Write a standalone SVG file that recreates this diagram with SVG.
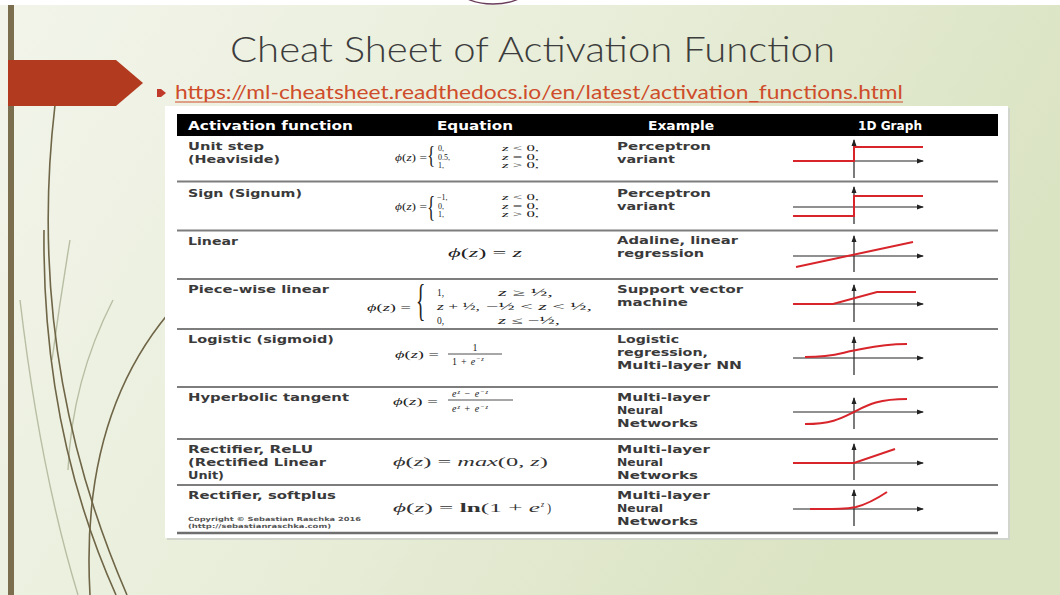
<svg xmlns="http://www.w3.org/2000/svg" width="1060" height="595" viewBox="0 0 1060 595">
<defs>
<linearGradient id="bg" x1="0" y1="0" x2="1" y2="0.35">
<stop offset="0" stop-color="#f2f4ea"/>
<stop offset="0.45" stop-color="#eaefdc"/>
<stop offset="1" stop-color="#dae3c2"/>
</linearGradient>
<marker id="ah" markerUnits="userSpaceOnUse" markerWidth="7" markerHeight="6" refX="6" refY="3" orient="auto">
<path d="M0,0.5 L7,3 L0,5.5 z" fill="#222"/>
</marker>
<style>
.title{font-family:Lato,'Open Sans','Liberation Sans',sans-serif;font-weight:300;font-size:36px;fill:#3c3c3c}
.url{font-family:Lato,'Open Sans','Liberation Sans',sans-serif;font-weight:400;font-size:19px;fill:#cf4c2a}
.hd{font-family:'DejaVu Sans',Verdana,sans-serif;font-weight:bold;font-size:11.5px;fill:#fff}
.t{font-family:'DejaVu Sans',Verdana,sans-serif;font-weight:bold;font-size:11px;fill:#3a3a3a}
.cp{font-family:'DejaVu Sans',Verdana,sans-serif;font-weight:bold;font-size:5.6px;fill:#555}
.m{font-family:'Liberation Serif','Times New Roman',serif;font-size:9.5px;fill:#222}
.s{font-family:'Liberation Serif','Times New Roman',serif;font-size:8px;fill:#222}
.f{font-family:'Liberation Serif','Times New Roman',serif;font-size:10px;fill:#222}
.br{font-family:'Liberation Serif','Times New Roman',serif;font-size:23px;fill:#222}
.mb{font-family:'Liberation Serif','Times New Roman',serif;font-size:12.5px;fill:#333}
.sup{font-size:6.5px}
.i{font-style:italic}
.sep{stroke:#7d7d7d;stroke-width:1.8;fill:none}
.ax{stroke:#222;stroke-width:1.2;fill:none;marker-end:url(#ah)}
.rd{stroke:#d8252b;stroke-width:2;fill:none;stroke-linejoin:miter}
.dec{fill:none;stroke:#6f6547;stroke-width:1.6}
.decl{fill:none;stroke:#b8bea3;stroke-width:1.4}
</style>
</defs>

<g id="background">
<rect x="0" y="0" width="1060" height="595" fill="url(#bg)"/>
<rect x="0" y="0" width="1060" height="5" fill="#ffffff"/>
<ellipse cx="493" cy="-10" rx="33" ry="14" fill="none" stroke="#6b3d5c" stroke-width="1.4"/>
<rect x="8" y="5" width="6" height="590" fill="#7a6e4e"/>
<path class="decl" d="M113 300 Q72 380 68 470"/>
<path class="decl" d="M20 300 Q40 470 78 595"/>
<path class="decl" d="M70 240 Q60 300 52 360"/>
<path class="dec" d="M55 105 Q25 360 127 595"/>
<path class="dec" d="M44 230 Q42 430 116 595"/>
<path class="dec" d="M168 314 Q80 420 90 595"/>
<polygon points="8,60 116,60 143,83 116,106 8,106" fill="#b23a1e"/>
</g>

<g id="title">
<text class="title" x="230" y="62" textLength="605" lengthAdjust="spacingAndGlyphs">Cheat Sheet of Activation Function</text>
</g>

<g id="link">
<polygon points="157,89 161,89 166,93 161,97 157,97" fill="#c0392b"/>
<text class="url" x="175" y="99" textLength="728" lengthAdjust="spacingAndGlyphs">https://ml-cheatsheet.readthedocs.io/en/latest/activation_functions.html</text>
<line x1="175" y1="102" x2="903" y2="102" stroke="#cf4c2a" stroke-width="1.2"/>
</g>

<g id="table">
<rect x="167" y="108" width="843" height="432" fill="#d2d5cb"/>
<rect x="165" y="106" width="843" height="432" fill="#ffffff"/>
<rect x="177" y="114" width="821" height="22" fill="#000000"/>
<text class="hd" x="188" y="129.5" textLength="165" lengthAdjust="spacingAndGlyphs">Activation function</text>
<text class="hd" x="437" y="129.5" textLength="76" lengthAdjust="spacingAndGlyphs">Equation</text>
<text class="hd" x="648" y="129.5" textLength="66" lengthAdjust="spacingAndGlyphs">Example</text>
<text class="hd" x="858" y="129.5" textLength="64" lengthAdjust="spacingAndGlyphs">1D Graph</text>
<path class="sep" d="M177 181.5H998M177 230.5H998M177 279H998M177 329H998M177 387H998M177 439H998M177 485H998"/>
<path d="M177 533H998" stroke="#6e6e6e" stroke-width="2.4"/>
</g>

<g id="row-unit-step">
<text class="t" x="188" y="150" textLength="76" lengthAdjust="spacingAndGlyphs">Unit step</text>
<text class="t" x="188" y="163" textLength="92" lengthAdjust="spacingAndGlyphs">(Heaviside)</text>
<text class="m" x="395" y="161" textLength="32" lengthAdjust="spacingAndGlyphs"><tspan class="i">ϕ</tspan>(<tspan class="i">z</tspan>) =</text>
<text class="br" transform="translate(427,163) scale(0.75,1.05)">{</text>
<text class="s" x="438" y="151">0,</text>
<text class="s" x="438" y="159.5">0.5,</text>
<text class="s" x="438" y="168">1,</text>
<text class="s" x="502" y="151" textLength="37" lengthAdjust="spacingAndGlyphs"><tspan class="i">z</tspan> &lt; 0,</text>
<text class="s" x="502" y="159.5" textLength="37" lengthAdjust="spacingAndGlyphs"><tspan class="i">z</tspan> = 0,</text>
<text class="s" x="502" y="168" textLength="37" lengthAdjust="spacingAndGlyphs"><tspan class="i">z</tspan> &gt; 0,</text>
<text class="t" x="617" y="150" textLength="94" lengthAdjust="spacingAndGlyphs">Perceptron</text>
<text class="t" x="617" y="163" textLength="58" lengthAdjust="spacingAndGlyphs">variant</text>
</g>

<g id="row-sign">
<text class="t" x="188" y="197" textLength="114" lengthAdjust="spacingAndGlyphs">Sign (Signum)</text>
<text class="m" x="395" y="210" textLength="32" lengthAdjust="spacingAndGlyphs"><tspan class="i">ϕ</tspan>(<tspan class="i">z</tspan>) =</text>
<text class="br" transform="translate(427,215.5) scale(0.75,1.28)">{</text>
<text class="s" x="437" y="200">−1,</text>
<text class="s" x="438" y="208.5">0,</text>
<text class="s" x="438" y="217">1,</text>
<text class="s" x="502" y="200" textLength="37" lengthAdjust="spacingAndGlyphs"><tspan class="i">z</tspan> &lt; 0,</text>
<text class="s" x="502" y="208.5" textLength="37" lengthAdjust="spacingAndGlyphs"><tspan class="i">z</tspan> = 0,</text>
<text class="s" x="502" y="217" textLength="37" lengthAdjust="spacingAndGlyphs"><tspan class="i">z</tspan> &gt; 0,</text>
<text class="t" x="617" y="197" textLength="94" lengthAdjust="spacingAndGlyphs">Perceptron</text>
<text class="t" x="617" y="210" textLength="58" lengthAdjust="spacingAndGlyphs">variant</text>
</g>

<g id="row-linear">
<text class="t" x="188" y="245" textLength="50" lengthAdjust="spacingAndGlyphs">Linear</text>
<text class="m" x="448" y="257" style="font-size:12px" textLength="74" lengthAdjust="spacingAndGlyphs"><tspan class="i">ϕ</tspan>(<tspan class="i">z</tspan>) = <tspan class="i">z</tspan></text>
<text class="t" x="617" y="244" textLength="121" lengthAdjust="spacingAndGlyphs">Adaline, linear</text>
<text class="t" x="617" y="257" textLength="87" lengthAdjust="spacingAndGlyphs">regression</text>
</g>

<g id="row-piecewise">
<text class="t" x="188" y="293" textLength="141" lengthAdjust="spacingAndGlyphs">Piece-wise linear</text>
<text class="m" x="367" y="311" textLength="44" lengthAdjust="spacingAndGlyphs"><tspan class="i">ϕ</tspan>(<tspan class="i">z</tspan>) =</text>
<text class="br" transform="translate(416,315) scale(0.85,1.9)">{</text>
<text class="m" x="437" y="296">1,</text>
<text class="m" x="437" y="310" textLength="43" lengthAdjust="spacingAndGlyphs"><tspan class="i">z</tspan> + ½,</text>
<text class="m" x="437" y="324">0,</text>
<text class="m" x="498" y="296" textLength="55" lengthAdjust="spacingAndGlyphs"><tspan class="i">z</tspan> ≥ ½,</text>
<text class="m" x="486" y="310" textLength="106" lengthAdjust="spacingAndGlyphs">−½ &lt; <tspan class="i">z</tspan> &lt; ½,</text>
<text class="m" x="498" y="324" textLength="62" lengthAdjust="spacingAndGlyphs"><tspan class="i">z</tspan> ≤ −½,</text>
<text class="t" x="617" y="293" textLength="126" lengthAdjust="spacingAndGlyphs">Support vector</text>
<text class="t" x="617" y="306" textLength="71" lengthAdjust="spacingAndGlyphs">machine</text>
</g>

<g id="row-logistic">
<text class="t" x="188" y="343" textLength="146" lengthAdjust="spacingAndGlyphs">Logistic (sigmoid)</text>
<text class="m" x="395" y="358" textLength="44" lengthAdjust="spacingAndGlyphs"><tspan class="i">ϕ</tspan>(<tspan class="i">z</tspan>) =</text>
<text class="f" x="475" y="351" text-anchor="middle">1</text>
<line x1="448" y1="354" x2="502" y2="354" stroke="#222" stroke-width="0.8"/>
<text class="f" x="452" y="364.5" letter-spacing="0.8">1 + <tspan class="i">e</tspan><tspan class="i sup" dy="-3.5">−z</tspan></text>
<text class="t" x="617" y="343" textLength="62" lengthAdjust="spacingAndGlyphs">Logistic</text>
<text class="t" x="617" y="356" textLength="91" lengthAdjust="spacingAndGlyphs">regression,</text>
<text class="t" x="617" y="369" textLength="125" lengthAdjust="spacingAndGlyphs">Multi-layer NN</text>
</g>

<g id="row-tanh">
<text class="t" x="188" y="401" textLength="161" lengthAdjust="spacingAndGlyphs">Hyperbolic tangent</text>
<text class="m" x="393" y="405" textLength="45" lengthAdjust="spacingAndGlyphs"><tspan class="i">ϕ</tspan>(<tspan class="i">z</tspan>) =</text>
<text class="f" x="452" y="397" letter-spacing="1"><tspan class="i">e</tspan><tspan class="i sup" dy="-3.5">z</tspan><tspan dy="3.5"> − </tspan><tspan class="i">e</tspan><tspan class="i sup" dy="-3.5">−z</tspan></text>
<line x1="448" y1="400" x2="513" y2="400" stroke="#222" stroke-width="0.8"/>
<text class="f" x="452" y="412" letter-spacing="1"><tspan class="i">e</tspan><tspan class="i sup" dy="-3.5">z</tspan><tspan dy="3.5"> + </tspan><tspan class="i">e</tspan><tspan class="i sup" dy="-3.5">−z</tspan></text>
<text class="t" x="617" y="401" textLength="93" lengthAdjust="spacingAndGlyphs">Multi-layer</text>
<text class="t" x="617" y="414" textLength="46" lengthAdjust="spacingAndGlyphs">Neural</text>
<text class="t" x="617" y="427" textLength="81" lengthAdjust="spacingAndGlyphs">Networks</text>
</g>

<g id="row-relu">
<text class="t" x="188" y="453" textLength="125" lengthAdjust="spacingAndGlyphs">Rectifier, ReLU</text>
<text class="t" x="188" y="466" textLength="138" lengthAdjust="spacingAndGlyphs">(Rectified Linear</text>
<text class="t" x="188" y="479" textLength="36" lengthAdjust="spacingAndGlyphs">Unit)</text>
<text class="mb" x="393" y="466" textLength="155" lengthAdjust="spacingAndGlyphs"><tspan class="i">ϕ</tspan>(<tspan class="i">z</tspan>) = <tspan class="i">max</tspan>(0, <tspan class="i">z</tspan>)</text>
<text class="t" x="617" y="453" textLength="93" lengthAdjust="spacingAndGlyphs">Multi-layer</text>
<text class="t" x="617" y="466" textLength="46" lengthAdjust="spacingAndGlyphs">Neural</text>
<text class="t" x="617" y="479" textLength="81" lengthAdjust="spacingAndGlyphs">Networks</text>
</g>

<g id="row-softplus">
<text class="t" x="188" y="499" textLength="148" lengthAdjust="spacingAndGlyphs">Rectifier, softplus</text>
<text class="cp" x="188" y="521" textLength="173" lengthAdjust="spacingAndGlyphs">Copyright © Sebastian Raschka 2016</text>
<text class="cp" x="188" y="528" textLength="143" lengthAdjust="spacingAndGlyphs">(http://sebastianraschka.com)</text>
<text class="mb" x="393" y="512" textLength="147" lengthAdjust="spacingAndGlyphs"><tspan class="i">ϕ</tspan>(<tspan class="i">z</tspan>) = <tspan font-weight="bold">ln</tspan>(1 + <tspan class="i">e</tspan></text>
<text class="mb i" x="541" y="507" style="font-size:8px">z</text>
<text class="mb" x="547" y="512">)</text>
<text class="t" x="617" y="499" textLength="93" lengthAdjust="spacingAndGlyphs">Multi-layer</text>
<text class="t" x="617" y="512" textLength="46" lengthAdjust="spacingAndGlyphs">Neural</text>
<text class="t" x="617" y="525" textLength="81" lengthAdjust="spacingAndGlyphs">Networks</text>
</g>

<g id="graphs">
<path class="ax" d="M793 161H923"/><path class="ax" d="M854 178V140"/>
<path class="rd" d="M793 161H854V147H923"/>
<path class="ax" d="M793 207H923"/><path class="ax" d="M854 224V187"/>
<path class="rd" d="M793 216H854V196H923"/>
<path class="ax" d="M793 256H923"/><path class="ax" d="M854 272V236"/>
<path class="rd" d="M796 267L913 242"/>
<path class="ax" d="M793 304H923"/><path class="ax" d="M854 322V285"/>
<path class="rd" d="M793 304H833L877 292H916"/>
<path class="ax" d="M793 358H923"/><path class="ax" d="M854 375V337"/>
<path class="rd" d="M805 357C833 357 840 353 854 350.5S880 344 907 344"/>
<path class="ax" d="M793 412H923"/><path class="ax" d="M854 429V398"/>
<path class="rd" d="M805 424C832 424 842 418 854 412S876 399 907 399"/>
<path class="ax" d="M793 463H923"/><path class="ax" d="M854 480V444"/>
<path class="rd" d="M793 463H854L895 449"/>
<path class="ax" d="M793 509H923"/><path class="ax" d="M854 526V490"/>
<path class="rd" d="M810 509C838 509 846 509 856 507C868 504 878 498 887 492"/>
</g>
</svg>
